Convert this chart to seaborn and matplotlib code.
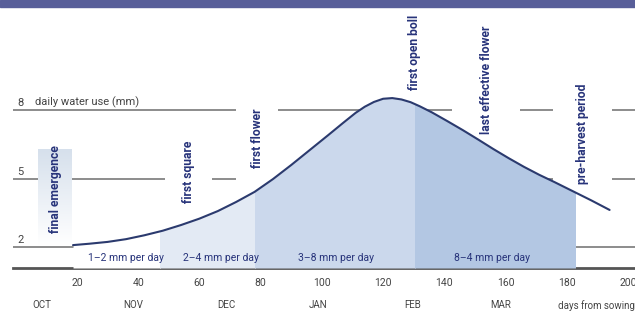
import numpy as np
import matplotlib
matplotlib.use("Agg")
import matplotlib.pyplot as plt
import matplotlib.transforms as mtransforms
from matplotlib.patches import Rectangle
from matplotlib.colors import LinearSegmentedColormap
import seaborn as sns

# -------------------------------
# DATA
# -------------------------------

# daily water use curve, mm per day vs days from sowing
DAYS = [18.7, 24, 30, 36, 42, 48, 54, 60, 66, 72, 78, 84, 90, 96, 102, 107,
        111, 114, 117, 120, 123, 126, 129, 132, 136, 141, 146, 151, 156, 161,
        166, 171, 176, 182, 188, 194]
WATER_MM = [2.09, 2.15, 2.23, 2.35, 2.52, 2.72, 2.97, 3.25, 3.58, 3.98, 4.42,
            4.98, 5.6, 6.25, 6.9, 7.45, 7.88, 8.15, 8.36, 8.5, 8.53, 8.47,
            8.35, 8.17, 7.9, 7.52, 7.13, 6.72, 6.3, 5.9, 5.52, 5.17, 4.85,
            4.45, 4.05, 3.63]

# shaded growth periods under the curve (start day, end day)
PERIOD_START = [18.7, 47.1, 78.1, 130.4]
PERIOD_END = [47.1, 78.1, 130.4, 182.7]
PERIOD_COLORS = ["white", "#e3eaf4", "#cbd8ec", "#b3c7e3"]

PERIOD_LABELS = ["1–2 mm per day", "2–4 mm per day", "3–8 mm per day", "8–4 mm per day"]
PERIOD_LABEL_DAY = [36.0, 67.0, 104.6, 155.6]

# crop stages (vertical labels)
STAGES = ["final emergence", "first square", "first flower",
          "first open boll", "last effective flower", "pre-harvest period"]
STAGE_DAY = [13.1, 56.3, 79.1, 130.1, 153.9, 185.3]
STAGE_MM = [4.55, 5.29, 6.78, 10.55, 9.32, 6.96]
# white halo behind each stage label: (day0, day1, mm0, mm1)
STAGE_HALO = [(7.3, 18.4, 2.1, 6.3), (48.7, 64.1, 3.2, 7.35), (71.9, 85.7, 4.3, 8.9),
              (125.5, 140.2, 8.2, 12.6), (142.5, 164.7, 6.3, 12.6), (175.5, 194.8, 4.1, 10.0)]

GRID_MM = [8, 5, 2]
DAY_TICKS = list(range(20, 201, 20))
MONTHS = ["OCT", "NOV", "DEC", "JAN", "FEB", "MAR"]
MONTH_DAY = [8.6, 38.3, 68.7, 98.7, 129.8, 158.5]

NAVY = "#27337a"
GREY = "#444444"

# -------------------------------
# FIGURE
# -------------------------------

sns.set_style("white")
plt.rcParams["font.family"] = ["Roboto", "DejaVu Sans"]

fig = plt.figure(figsize=(6.35, 3.13), dpi=100)
ax = fig.add_axes([13 / 635, 45 / 313, 622 / 635, 261 / 313])

# title bar strip at the very top (cut off in the reference)
fig.patches.append(Rectangle((0, 1 - 7 / 313), 1, 7 / 313, transform=fig.transFigure,
                             color="#585e99", zorder=0))

# grid lines with their values
for v in GRID_MM:
    ax.axhline(v, color="#8c8c8c", lw=1.4, zorder=1)
    ax.text(0.6, v + 0.08, str(v), fontsize=8, color=GREY, ha="left", va="bottom", zorder=6)
ax.text(6.3, 8.08, "daily water use (mm)", fontsize=8, color=GREY, ha="left", va="bottom", zorder=6)

# halos behind the stage labels
for i, (d0, d1, m0, m1) in enumerate(STAGE_HALO):
    if i == 0:
        cmap = LinearSegmentedColormap.from_list("halo", ["white", "#d6e0ec"])
        grad = np.linspace(0, 1, 100).reshape(-1, 1)
        ax.imshow(grad, extent=(d0, d1, m1, m0), cmap=cmap, aspect="auto", zorder=2)
    else:
        ax.add_patch(Rectangle((d0, m0), d1 - d0, m1 - m0, color="white", lw=0, zorder=2))

# shaded periods under the curve
ybot = 1.087
for d0, d1, col in zip(PERIOD_START, PERIOD_END, PERIOD_COLORS):
    poly = ax.fill_between(DAYS, WATER_MM, ybot, color=col, lw=0, zorder=3)
    clip = Rectangle((d0, ybot), d1 - d0, 20, transform=ax.transData)
    poly.set_clip_path(clip)

sns.lineplot(x=DAYS, y=WATER_MM, ax=ax, color="#2b3a6e", lw=1.5, zorder=4,
             solid_joinstyle="round")

for name, d, m in zip(STAGES, STAGE_DAY, STAGE_MM):
    ax.text(d, m, name, rotation=90, ha="center", va="center", fontsize=8.7,
            fontweight="bold", color=NAVY, zorder=6)

for name, d in zip(PERIOD_LABELS, PERIOD_LABEL_DAY):
    ax.text(d, 1.52, name, ha="center", va="center", fontsize=7.5, color=NAVY, zorder=6)

# axes
ax.set_xlim(-0.91, 202.3)
ax.set_ylim(ybot, 12.52)
ax.set_xticks(DAY_TICKS)
ax.set_yticks([])
ax.tick_params(axis="x", direction="out", length=4, width=1.2, color=GREY,
               labelsize=7.5, labelcolor=GREY, pad=3)
for s in ["top", "left", "right"]:
    ax.spines[s].set_visible(False)
ax.spines["bottom"].set_color("#555555")
ax.spines["bottom"].set_linewidth(2)
ax.set_xlabel("")
ax.set_ylabel("")

trans = mtransforms.blended_transform_factory(ax.transData, ax.transAxes)
for name, d in zip(MONTHS, MONTH_DAY):
    ax.text(d, -0.142, name, transform=trans, ha="center", va="center",
            fontsize=7, color=GREY, clip_on=False)
ax.text(0.999, -0.142, "days from sowing", transform=ax.transAxes, ha="right",
        va="center", fontsize=7, color=GREY, clip_on=False)

fig.savefig("out.png", dpi=100)
